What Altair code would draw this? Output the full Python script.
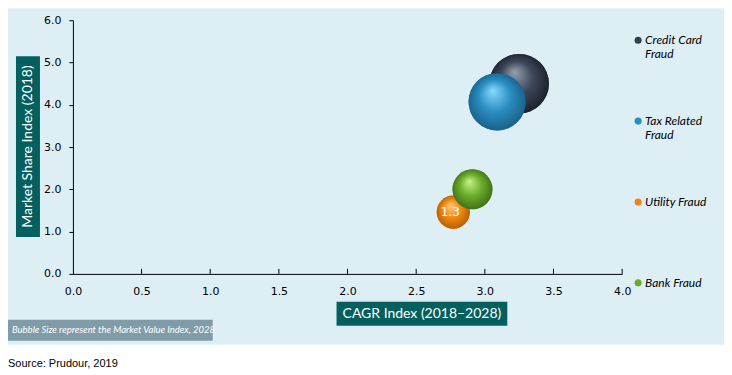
import altair as alt
import pandas as pd

# ---- data ----
names = ["Credit Card Fraud", "Tax Related Fraud", "Utility Fraud", "Bank Fraud"]
cagr = [3.25, 3.09, 2.77, 2.91]          # CAGR Index (2018-2028)
share = [4.50, 4.07, 1.46, 2.00]         # Market Share Index (2018)
value = [4.2, 3.9, 1.3, 1.9]             # Market Value Index, 2028 (bubble size)
labels = ["", "", "1.3", ""]
x_ticks = [0.0, 0.5, 1.0, 1.5, 2.0, 2.5, 3.0, 3.5, 4.0]
y_ticks = [0.0, 1.0, 2.0, 3.0, 4.0, 5.0, 6.0]
inner_ticks = [0.5, 1.0, 1.5, 2.0, 2.5, 3.0, 3.5, 4.0]

# ---- styles ----
colors = ["#333E4F", "#2B8CC4", "#F0820F", "#6AAC2A"]
shades = {
    "Credit Card Fraud": ["#95A0B0", "#3C4859", "#161C26"],
    "Tax Related Fraud": ["#86DBFC", "#2B8EC3", "#175A82"],
    "Utility Fraud": ["#FFC97A", "#F08A12", "#B05800"],
    "Bank Fraud": ["#C4F785", "#6CAC2C", "#3A6A12"],
}
BG = "#DDEEF4"
TEAL = "#03605E"
NOTE = "#7F9CA8"
W, H = 550, 254

df = pd.DataFrame({"name": names, "cagr": cagr, "share": share,
                   "value": value, "label": labels})
ticks_df = pd.DataFrame({"t": inner_ticks})
one = alt.Data(values=[{}])

x_scale = alt.Scale(domain=[0, 4], nice=False)
y_scale = alt.Scale(domain=[0, 6], nice=False)
size_scale = alt.Scale(domain=[0, max(value)], range=[0, 845 * max(value)])

x_axis = alt.Axis(title=None, grid=False, ticks=False, values=x_ticks, format=".1f",
                  labelPadding=12, labelFont="DejaVu Sans", labelFontSize=11,
                  labelColor="black", domainColor="black", labelOverlap=False,
                  labelFlush=False, zindex=1)
y_axis = alt.Axis(title=None, grid=False, values=y_ticks, format=".1f", tickSize=4,
                  tickColor="black", labelPadding=8, labelFont="DejaVu Sans",
                  labelFontSize=11, labelColor="black", domainColor="black",
                  labelOverlap=False, labelFlush=False, zindex=1)

label_expr = ("datum.label == 'Credit Card Fraud' ? ['Credit Card', 'Fraud'] : "
              "datum.label == 'Tax Related Fraud' ? ['Tax Related', 'Fraud'] : "
              "[datum.label, '']")

legend = alt.Legend(title=None, orient="none", legendX=560, legendY=14,
                    symbolType="circle", symbolSize=50, symbolStrokeWidth=0,
                    symbolOpacity=1, labelFont="Lato", labelFontStyle="italic",
                    labelFontSize=12, labelColor="black", labelExpr=label_expr,
                    labelBaseline="middle", labelOffset=1, rowPadding=55,
                    padding=0, labelLimit=200, zindex=1)

background = alt.Chart(one).mark_rect(color=BG).encode(
    x=alt.value(-65), x2=alt.value(652), y=alt.value(-12), y2=alt.value(325))

base = alt.Chart(df).encode(
    x=alt.X("cagr:Q", scale=x_scale, axis=x_axis),
    y=alt.Y("share:Q", scale=y_scale, axis=y_axis),
)

plain = base.mark_circle(opacity=1).encode(
    size=alt.Size("value:Q", scale=size_scale, legend=None),
    color=alt.Color("name:N", scale=alt.Scale(domain=names, range=colors), legend=legend),
)

def sphere(n):
    c0, c1, c2 = shades[n]
    grad = alt.Gradient(gradient="radial",
                        stops=[alt.GradientStop(offset=0, color=c0),
                               alt.GradientStop(offset=0.5, color=c1),
                               alt.GradientStop(offset=1, color=c2)],
                        x1=0.42, y1=0.3, r1=0, x2=0.5, y2=0.5, r2=0.55)
    return base.transform_filter(alt.datum.name == n).mark_circle(
        opacity=1, color=grad).encode(
        size=alt.Size("value:Q", scale=size_scale, legend=None))

spheres = [sphere(n) for n in ["Credit Card Fraud", "Tax Related Fraud",
                               "Utility Fraud", "Bank Fraud"]]

bubble_label = base.transform_filter(alt.datum.label != "").mark_text(
    color="white", font="DejaVu Sans", fontSize=12, dx=-3, baseline="middle"
).encode(text="label:N")

inner = alt.Chart(ticks_df).mark_rule(color="black", strokeWidth=1).encode(
    x=alt.X("t:Q", scale=x_scale), y=alt.value(H - 5), y2=alt.value(H))

ytitle_box = alt.Chart(one).mark_rect(color=TEAL).encode(
    x=alt.value(-57), x2=alt.value(-33), y=alt.value(36), y2=alt.value(217))
ytitle = alt.Chart(one).mark_text(
    text="Market Share Index (2018)", angle=270, color="white", font="Lato",
    fontSize=14, align="center", baseline="middle").encode(
    x=alt.value(-45), y=alt.value(126.5))

xtitle_box = alt.Chart(one).mark_rect(color=TEAL).encode(
    x=alt.value(264), x2=alt.value(435), y=alt.value(282), y2=alt.value(306))
xtitle = alt.Chart(one).mark_text(
    text="CAGR Index (2018\u20132028)", color="white", font="Lato", fontSize=14,
    align="center", baseline="middle").encode(x=alt.value(349.5), y=alt.value(294))

note_box = alt.Chart(one).mark_rect(color=NOTE).encode(
    x=alt.value(-65), x2=alt.value(140), y=alt.value(300), y2=alt.value(321))
note = alt.Chart(one).mark_text(
    text="Bubble Size represent the Market Value Index, 2028", color="white",
    font="Lato", fontStyle="italic", fontSize=9.5, align="left",
    baseline="middle").encode(x=alt.value(-61), y=alt.value(310.5))

source = alt.Chart(one).mark_text(
    text="Source: Prudour, 2019", color="black", font="Liberation Sans", fontSize=11,
    align="left", baseline="middle").encode(x=alt.value(-65), y=alt.value(344))

chart = alt.layer(
    background, ytitle_box, ytitle, xtitle_box, xtitle, note_box, note, source,
    inner, plain, *spheres, bubble_label
).properties(width=W, height=H, padding=0, background="white").configure_view(stroke=None)

chart.save("out.html", embed_options={"renderer": "svg", "actions": False})
